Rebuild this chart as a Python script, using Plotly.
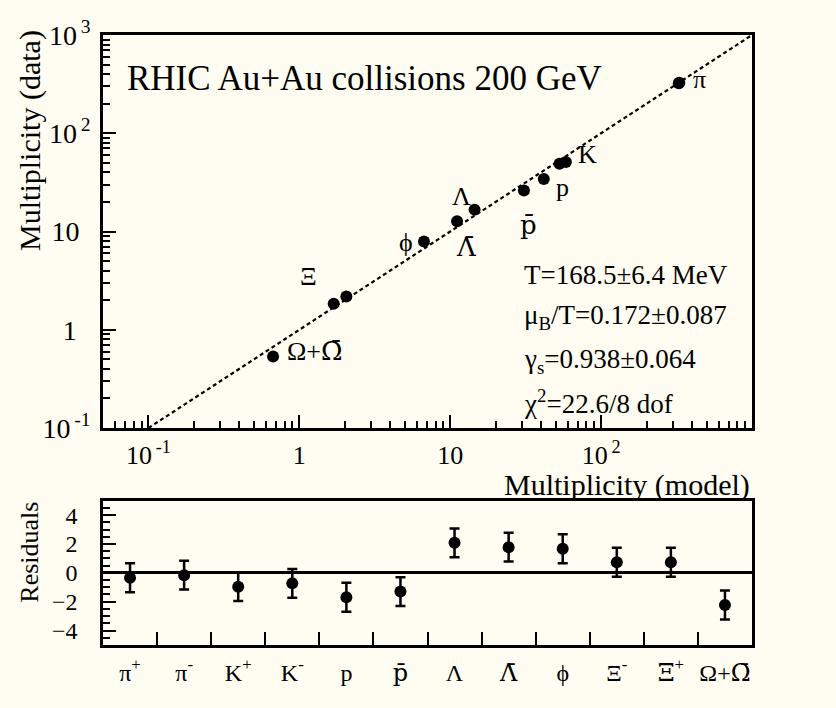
import numpy as np
import plotly.graph_objects as go

FONT = "Liberation Serif"
BG = "#FFFDF2"


def barred(ch):
    # letter with an overbar (combining macron, in a font with mark anchoring)
    return "<span style='font-family:DejaVu Serif'>" + ch + "\u0304</span>"


# Hadron species in the thermal-model fit
species_axis = ["π<sup>+</sup>", "π<sup>-</sup>", "K<sup>+</sup>", "K<sup>-</sup>", "p", barred("p"),
                "Λ", barred("Λ"), "ϕ", "Ξ<sup>-</sup>", barred("Ξ") + "<sup>+</sup>",
                "Ω+" + barred("Ω")]

# Multiplicities: thermal model (x) versus measured (y)
mult_model = [327.0, 330.0, 53.0, 58.4, 41.7, 30.8, 14.5, 11.1, 6.7, 2.05, 1.69, 0.67]
mult_data = [322.0, 326.0, 49.0, 51.0, 34.3, 26.2, 16.7, 12.7, 7.9, 2.18, 1.84, 0.535]

# Normalised residuals and their uncertainties
residuals = [-0.34, -0.16, -0.96, -0.73, -1.69, -1.30, 2.08, 1.78, 1.67, 0.73, 0.73, -2.23]
resid_err = [1.0] * 12

# Labels placed next to selected points in the upper panel: (index, text, dx, dy, xanchor)
point_labels = [
    (1, "π", 20, 3, "center"),
    (3, "K", 22, 7, "center"),
    (4, "p", 19, -9, "center"),
    (5, barred("p"), 5, -35, "center"),
    (6, "Λ", -13, 13, "center"),
    (7, barred("Λ"), 9, -26, "center"),
    (8, "ϕ", -18, -1, "center"),
    (10, "Ξ", -25, 27, "center"),
    (11, "Ω+" + barred("Ω"), 12, 5, "left"),
]

fit_lines = ["T=168.5±6.4 MeV", "μ<sub>B</sub>/T=0.172±0.087",
             "γ<sub>s</sub>=0.938±0.064", "χ<sup>2</sup>=22.6/8 dof"]

SP = "\u2009"
x_ticks = [0.1, 1, 10, 100]
x_ticktext = ["10<sup>" + SP + "-1</sup>", "1", "10", "10<sup>" + SP + "2</sup>"]
y_ticks = [0.1, 1, 10, 100, 1000]
y_ticktext = ["10<sup>" + SP + "-1</sup>", "1\u2002", "10\u2009\u2009",
              "10<sup>" + SP + "2</sup>", "10<sup>" + SP + "3</sup>"]
diag = [0.1, 1000]


def log_minor(lo_exp, hi_exp):
    vals = []
    for e in range(lo_exp, hi_exp):
        for m in range(2, 10):
            vals.append(m * 10.0 ** e)
    return vals


fig = go.Figure()

# y = x reference line
fig.add_trace(go.Scatter(x=diag, y=diag, mode="lines",
                         line=dict(color="black", width=2.2, dash="4px,3px"),
                         xaxis="x", yaxis="y", showlegend=False, hoverinfo="skip"))

fig.add_trace(go.Scatter(x=mult_model, y=mult_data, mode="markers",
                         marker=dict(color="black", size=12),
                         xaxis="x", yaxis="y", showlegend=False))

cats = list(range(len(species_axis)))
fig.add_trace(go.Scatter(x=cats, y=residuals, mode="markers",
                         marker=dict(color="black", size=12),
                         error_y=dict(type="data", array=resid_err, color="black",
                                      thickness=2.5, width=5),
                         xaxis="x2", yaxis="y2", showlegend=False))

frame = dict(showline=True, linecolor="black", linewidth=2.5, mirror=True,
             showgrid=False, zeroline=False)

fig.update_layout(
    width=836, height=708,
    margin=dict(l=103, r=84, t=35, b=63),
    paper_bgcolor=BG, plot_bgcolor=BG,
    font=dict(family=FONT, color="black"),
    xaxis=dict(type="log", range=[np.log10(0.05), 3], anchor="y", domain=[0, 1],
               tickmode="array", tickvals=x_ticks, ticktext=x_ticktext,
               ticks="inside", ticklen=13, tickwidth=2, tickcolor="black",
               ticklabelstandoff=2,
               tickfont=dict(family=FONT, size=26, color="black"),
               minor=dict(tickmode="array", tickvals=log_minor(-2, 3), ticks="inside",
                          ticklen=7, tickwidth=2, tickcolor="black", showgrid=False),
               **frame),
    yaxis=dict(type="log", range=[-1, 3], anchor="x", domain=[0.3557, 1],
               tickmode="array", tickvals=y_ticks, ticktext=y_ticktext,
               ticks="inside", ticklen=13, tickwidth=2, tickcolor="black",
               ticklabelstandoff=4,
               tickfont=dict(family=FONT, size=28, color="black"),
               minor=dict(tickmode="array", tickvals=log_minor(-1, 3), ticks="inside",
                          ticklen=7, tickwidth=2, tickcolor="black", showgrid=False),
               **frame),
    xaxis2=dict(range=[-0.5, len(cats) - 0.5], anchor="y2", domain=[0, 1],
                tickmode="array", tickvals=cats, ticktext=species_axis, ticks="",
                ticklabelstandoff=4,
                tickfont=dict(family=FONT, size=24, color="black"),
                minor=dict(tickmode="array", tickvals=[c + 0.5 for c in cats[:-1]],
                           ticks="inside", ticklen=13, tickwidth=2, tickcolor="black",
                           showgrid=False),
                **frame),
    yaxis2=dict(range=[-5, 5], anchor="x2", domain=[0, 0.2366],
                tickmode="array", tickvals=[-4, -2, 0, 2, 4],
                ticks="inside", ticklen=13, tickwidth=2, tickcolor="black",
                ticklabelstandoff=18,
                tickfont=dict(family=FONT, size=24, color="black"),
                minor=dict(dtick=0.5, ticks="inside", ticklen=7, tickwidth=2,
                           tickcolor="black", showgrid=False),
                **{**frame, "zeroline": True, "zerolinecolor": "black", "zerolinewidth": 2.5}),
)

annotations = []
for idx, txt, dx, dy, xa in point_labels:
    annotations.append(dict(x=np.log10(mult_model[idx]), y=np.log10(mult_data[idx]),
                            xref="x", yref="y", text=txt, showarrow=False,
                            xshift=dx, yshift=dy, xanchor=xa, yanchor="middle",
                            font=dict(family=FONT, size=26, color="black")))

annotations.append(dict(x=0.0344, y=0.9295, xref="paper", yref="paper",
                        text="RHIC Au+Au collisions 200 GeV", showarrow=False,
                        xanchor="left", yanchor="middle",
                        font=dict(family=FONT, size=35, color="black")))

fit_y = [0.6066, 0.5377, 0.466, 0.3989]
for txt, yy in zip(fit_lines, fit_y):
    annotations.append(dict(x=0.6455, y=yy, xref="paper", yref="paper", text=txt,
                            showarrow=False, xanchor="left", yanchor="middle",
                            font=dict(family=FONT, size=27, color="black")))

annotations.append(dict(x=-0.1125, y=0.828, xref="paper", yref="paper",
                        text="Multiplicity (data)", textangle=-90, showarrow=False,
                        xanchor="center", yanchor="middle",
                        font=dict(family=FONT, size=30, color="black")))
annotations.append(dict(x=1.0, y=0.262, xref="paper", yref="paper",
                        text="Multiplicity (model)", showarrow=False,
                        xanchor="right", yanchor="middle",
                        font=dict(family=FONT, size=30, color="black")))
annotations.append(dict(x=-0.1125, y=0.153, xref="paper", yref="paper",
                        text="Residuals", textangle=-90, showarrow=False,
                        xanchor="center", yanchor="middle",
                        font=dict(family=FONT, size=26, color="black")))

fig.update_layout(annotations=annotations)

fig.write_html("out.html")
